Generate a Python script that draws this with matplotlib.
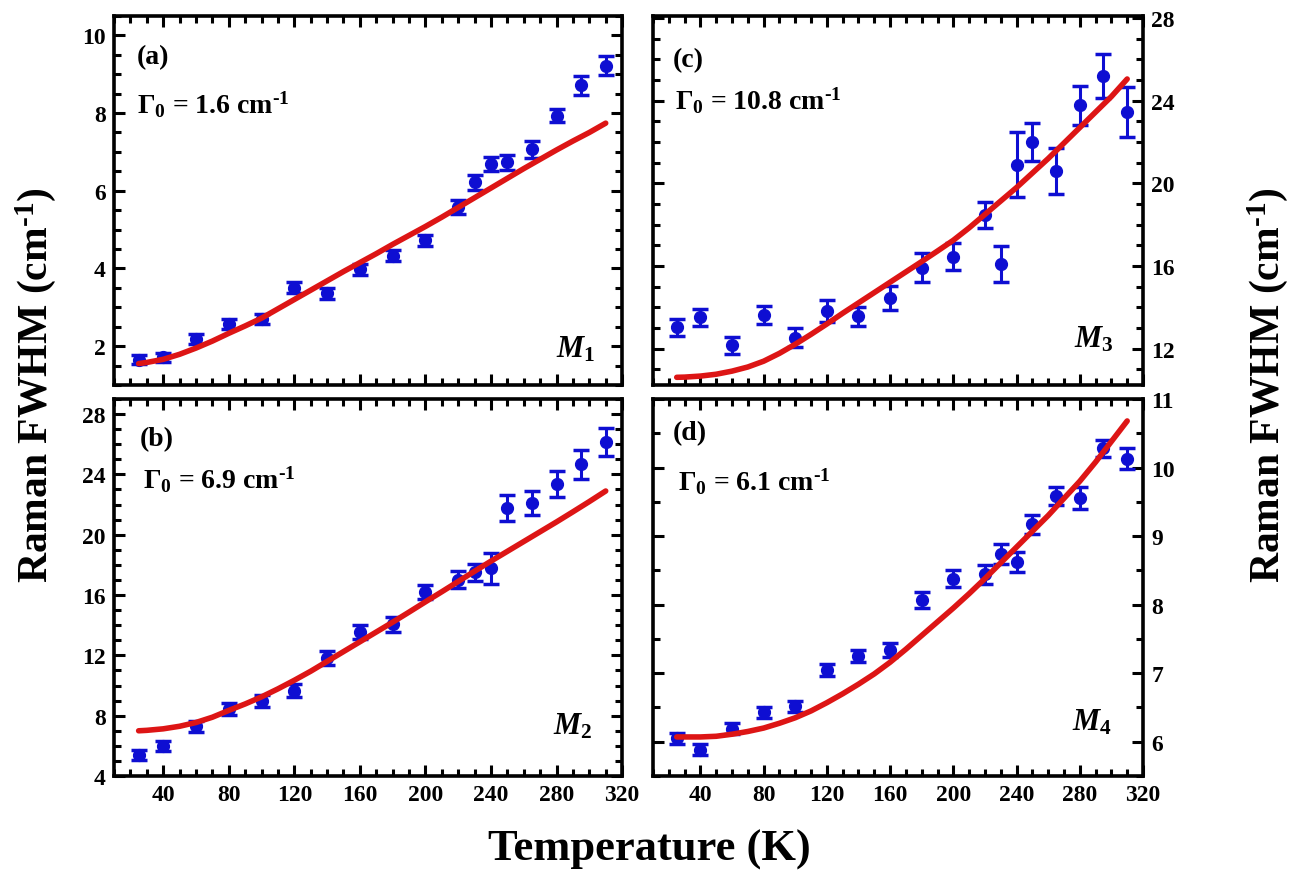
"""
Raman FWHM vs temperature for four modes (M1..M4) with anharmonic fits.
"""

import matplotlib
matplotlib.use("Agg")
import matplotlib.pyplot as plt
from matplotlib.ticker import MultipleLocator

# Measured points (same temperatures for all modes)
temps = [25, 40, 60, 80, 100, 120, 140, 160, 180, 200, 220, 230, 240, 250, 265, 280, 295, 310]

fwhm_m1 = [1.65, 1.71, 2.18, 2.57, 2.70, 3.50, 3.36, 3.98, 4.33, 4.72, 5.57, 6.22, 6.69, 6.73, 7.07, 7.93, 8.71, 9.22]
err_m1 = [0.12, 0.12, 0.12, 0.12, 0.12, 0.14, 0.14, 0.14, 0.14, 0.15, 0.18, 0.19, 0.19, 0.2, 0.22, 0.17, 0.24, 0.25]

fwhm_m2 = [5.4, 6.0, 7.3, 8.44, 8.96, 9.67, 11.84, 13.56, 14.07, 16.18, 17.02, 17.51, 17.78, 21.78, 22.13, 23.36, 24.67, 26.13]
err_m2 = [0.35, 0.35, 0.35, 0.38, 0.38, 0.4, 0.45, 0.48, 0.5, 0.47, 0.55, 0.55, 1.02, 0.84, 0.8, 0.85, 0.97, 0.94]

fwhm_m3 = [13.03, 13.52, 12.18, 13.62, 12.54, 13.81, 13.57, 14.47, 15.93, 16.46, 18.47, 16.1, 20.91, 21.98, 20.59, 23.77, 25.21, 23.45]
err_m3 = [0.41, 0.41, 0.41, 0.43, 0.45, 0.53, 0.47, 0.57, 0.69, 0.64, 0.61, 0.86, 1.57, 0.92, 1.1, 0.95, 1.06, 1.2]

fwhm_m4 = [6.05, 5.88, 6.19, 6.43, 6.52, 7.05, 7.25, 7.34, 8.07, 8.38, 8.44, 8.74, 8.62, 9.17, 9.59, 9.56, 10.28, 10.13]
err_m4 = [0.08, 0.08, 0.08, 0.08, 0.08, 0.09, 0.09, 0.1, 0.12, 0.12, 0.14, 0.14, 0.15, 0.14, 0.13, 0.16, 0.12, 0.15]

# Fit curves
fit_temps = [25, 30, 40, 50, 60, 70, 80, 90, 100, 110, 120, 130, 140, 150, 160,
             170, 180, 190, 200, 210, 220, 230, 240, 250, 260, 270, 280, 290, 300, 310]
fit_m1 = [1.55, 1.58, 1.66, 1.79, 1.95, 2.13, 2.33, 2.52, 2.72, 2.96, 3.20, 3.44, 3.68, 3.92, 4.15,
          4.38, 4.62, 4.85, 5.08, 5.32, 5.57, 5.82, 6.07, 6.32, 6.57, 6.81, 7.05, 7.28, 7.50, 7.74]
fit_m2 = [7.0, 7.03, 7.13, 7.3, 7.55, 7.9, 8.35, 8.78, 9.25, 9.78, 10.35, 10.95, 11.6, 12.25, 12.9,
          13.55, 14.2, 14.87, 15.55, 16.22, 16.9, 17.58, 18.25, 18.9, 19.55, 20.2, 20.85, 21.52, 22.2, 22.9]
fit_m3 = [10.62, 10.63, 10.68, 10.77, 10.92, 11.12, 11.4, 11.78, 12.22, 12.7, 13.2, 13.72, 14.22, 14.72, 15.22,
          15.72, 16.22, 16.73, 17.25, 17.85, 18.5, 19.15, 19.8, 20.5, 21.2, 21.95, 22.7, 23.45, 24.2, 25.05]
fit_m4 = [6.07, 6.07, 6.07, 6.08, 6.11, 6.15, 6.20, 6.27, 6.35, 6.45, 6.57, 6.70, 6.84, 6.99, 7.16,
          7.35, 7.55, 7.75, 7.95, 8.16, 8.38, 8.61, 8.84, 9.07, 9.30, 9.55, 9.80, 10.08, 10.38, 10.68]

panel_tags = ["(a)", "(b)", "(c)", "(d)"]
gamma0 = ["1.6", "6.9", "10.8", "6.1"]
mode_names = ["1", "2", "3", "4"]

BLUE = "#0E0ED2"
RED = "#DD1515"

plt.rcParams["font.family"] = ["Liberation Serif", "DejaVu Serif"]
plt.rcParams["font.weight"] = "bold"
plt.rcParams["mathtext.fontset"] = "custom"
plt.rcParams["mathtext.rm"] = "Liberation Serif:bold"
plt.rcParams["mathtext.it"] = "Liberation Serif:italic:bold"
plt.rcParams["mathtext.bf"] = "Liberation Serif:bold"

fig = plt.figure(figsize=(12.99, 8.78), dpi=100)

# axes boxes in figure fractions: a (top-left), b (bottom-left), c (top-right), d (bottom-right)
boxes = [
    [0.0878, 0.5604, 0.3911, 0.4203],
    [0.0878, 0.1150, 0.3911, 0.4294],
    [0.5027, 0.5604, 0.3772, 0.4203],
    [0.5027, 0.1150, 0.3772, 0.4294],
]
ylims = [(1.0, 10.5), (4.0, 29.0), (10.25, 28.1), (5.5, 11.0)]
yticks = [(2, 0.5), (4, 1), (4, 1), (1, 0.5)]

# text positions (axes fraction): tag, gamma label, mode label
tag_pos = [(0.045, 0.889), (0.051, 0.894), (0.041, 0.883), (0.041, 0.912)]
gam_pos = [(0.045, 0.762), (0.057, 0.788), (0.045, 0.773), (0.051, 0.783)]
mode_pos = [(0.947, 0.098), (0.941, 0.133), (0.939, 0.126), (0.937, 0.143)]

data = [(fwhm_m1, err_m1, fit_m1), (fwhm_m2, err_m2, fit_m2),
        (fwhm_m3, err_m3, fit_m3), (fwhm_m4, err_m4, fit_m4)]

unit = r" cm$^{\text{-}1}$"

for i, box in enumerate(boxes):
    ax = fig.add_axes(box)
    vals, errs, fit = data[i]

    ax.errorbar(temps, vals, yerr=errs, fmt="o", color=BLUE, ms=8.5,
                elinewidth=2.2, capsize=6, capthick=2.5, zorder=2)
    ax.plot(fit_temps, fit, color=RED, lw=4, solid_capstyle="round",
            solid_joinstyle="round", zorder=3)

    ax.set_xlim(10, 320)
    ax.set_ylim(*ylims[i])
    ax.xaxis.set_major_locator(MultipleLocator(40))
    ax.xaxis.set_minor_locator(MultipleLocator(10))
    ax.yaxis.set_major_locator(MultipleLocator(yticks[i][0]))
    ax.yaxis.set_minor_locator(MultipleLocator(yticks[i][1]))

    right_side = i >= 2
    bottom_row = i in (1, 3)
    ax.tick_params(which="both", direction="in", top=True, right=True,
                   width=2.2, labelsize=17, pad=6)
    ax.tick_params(which="major", length=8)
    ax.tick_params(which="minor", length=5)
    ax.tick_params(axis="y", labelleft=not right_side, labelright=right_side)
    ax.tick_params(axis="x", labelbottom=bottom_row)
    for lab in ax.get_xticklabels() + ax.get_yticklabels():
        lab.set_fontweight("bold")
    for sp in ax.spines.values():
        sp.set_linewidth(2.6)

    ax.text(*tag_pos[i], panel_tags[i], transform=ax.transAxes,
            fontsize=20, fontweight="bold", ha="left", va="center")
    ax.text(*gam_pos[i], r"$\Gamma_{0}$ = " + gamma0[i] + unit,
            transform=ax.transAxes, fontsize=20, fontweight="bold",
            ha="left", va="center")
    ax.text(*mode_pos[i], r"$M_{" + mode_names[i] + "}$", transform=ax.transAxes,
            fontsize=22, ha="right", va="center")

fig.text(0.027, 0.5615, r"Raman FWHM (cm$^{\text{-}1}$)", rotation=90,
         fontsize=30, fontweight="bold", ha="center", va="center")
fig.text(0.976, 0.5615, r"Raman FWHM (cm$^{\text{-}1}$)", rotation=90,
         fontsize=30, fontweight="bold", ha="center", va="center")
fig.text(0.5, 0.032, "Temperature (K)", fontsize=32, fontweight="bold",
         ha="center", va="center")

fig.savefig("out.png", dpi=100)
